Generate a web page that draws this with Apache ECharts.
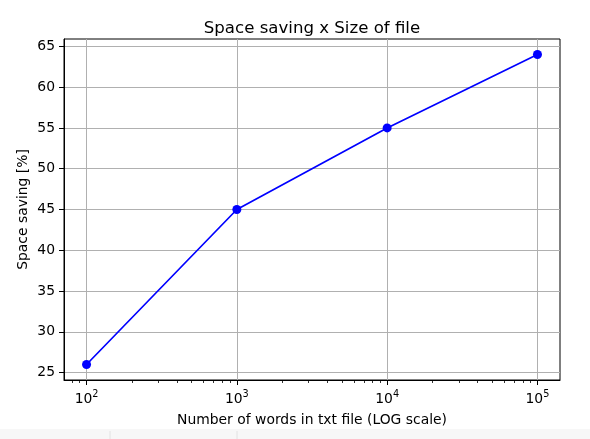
<!DOCTYPE html>
<html>
<head>
<meta charset="utf-8">
<style>
  html, body { margin: 0; padding: 0; background: #fff; }
  #chart { width: 590px; height: 439px; }
</style>
<script src="https://cdn.jsdelivr.net/npm/echarts@6/dist/echarts.min.js"></script>
</head>
<body>
<div id="chart"></div>
<script>
const wordCounts = [100, 1000, 10000, 100000];
const spaceSaving = [26, 45, 55, 64];
const xMajorTicks = [100, 1000, 10000, 100000];
const xMinorTicks = [
  80, 90,
  200, 300, 400, 500, 600, 700, 800, 900,
  2000, 3000, 4000, 5000, 6000, 7000, 8000, 9000,
  20000, 30000, 40000, 50000, 60000, 70000, 80000, 90000
];
const yTicks = [25, 30, 35, 40, 45, 50, 55, 60, 65];

const FONT = "DejaVu Sans";

// matplotlib-like 5% margins around the data
const X_MIN = Math.pow(10, 1.85);
const X_MAX = Math.pow(10, 5.15);
const Y_MIN = 24.1;
const Y_MAX = 65.9;

const chart = echarts.init(document.getElementById("chart"));

function formatPower(value) {
  const exp = Math.round(Math.log10(value));
  return "{b|10}{s|" + exp + "}";
}

chart.setOption({
  animation: false,
  title: {
    text: "Space saving x Size of file",
    left: 307,
    top: 15,
    textAlign: "center",
    textStyle: { fontFamily: FONT, fontSize: 16.6, fontWeight: "normal", color: "#000" }
  },
  grid: {
    left: 64,
    right: 30,
    top: 39,
    bottom: 59,
    show: true,
    borderColor: "#000",
    borderWidth: 1
  },
  graphic: [
    {
      type: "rect",
      left: 0,
      bottom: 0,
      shape: { width: 590, height: 10 },
      style: { fill: "#f7f7f7" },
      silent: true
    },
    {
      type: "line",
      shape: { x1: 110, y1: 431, x2: 110, y2: 439 },
      style: { stroke: "#e2e2e2", lineWidth: 1 },
      silent: true
    },
    {
      type: "line",
      shape: { x1: 237, y1: 431, x2: 237, y2: 439 },
      style: { stroke: "#e2e2e2", lineWidth: 1 },
      silent: true
    }
  ],
  xAxis: [
    {
      type: "log",
      logBase: 10,
      min: X_MIN,
      max: X_MAX,
      name: "Number of words in txt file (LOG scale)",
      nameLocation: "middle",
      nameGap: 33,
      nameTextStyle: { fontFamily: FONT, fontSize: 13.9, color: "#000" },
      axisLine: { show: true, lineStyle: { color: "#000", width: 1 } },
      axisTick: {
        show: true,
        customValues: xMajorTicks,
        length: 5,
        lineStyle: { color: "#000", width: 1 }
      },
      axisLabel: {
        customValues: xMajorTicks,
        formatter: formatPower,
        margin: 9,
        color: "#000",
        rich: {
          b: { fontFamily: FONT, fontSize: 13.9, lineHeight: 20, color: "#000" },
          s: { fontFamily: FONT, fontSize: 9.7, lineHeight: 10, verticalAlign: "top", color: "#000" }
        }
      },
      splitLine: { show: true, lineStyle: { color: "#b0b0b0", width: 1 } }
    },
    {
      type: "log",
      logBase: 10,
      min: X_MIN,
      max: X_MAX,
      position: "bottom",
      axisLine: { show: false },
      axisTick: {
        show: true,
        customValues: xMinorTicks,
        length: 3,
        lineStyle: { color: "#000", width: 0.8 }
      },
      axisLabel: { show: false },
      splitLine: { show: false }
    }
  ],
  yAxis: {
    type: "value",
    min: Y_MIN,
    max: Y_MAX,
    name: "Space saving [%]",
    nameLocation: "middle",
    nameGap: 34,
    nameMoveOverlap: false,
    nameTextStyle: { fontFamily: FONT, fontSize: 13.9, color: "#000" },
    axisLine: { show: true, lineStyle: { color: "#000", width: 1 } },
    axisTick: {
      show: true,
      customValues: yTicks,
      length: 5,
      lineStyle: { color: "#000", width: 1 }
    },
    axisLabel: {
      customValues: yTicks,
      margin: 9,
      fontFamily: FONT,
      fontSize: 13.9,
      color: "#000"
    },
    splitLine: { show: true, lineStyle: { color: "#b0b0b0", width: 1 } }
  },
  series: [
    {
      type: "line",
      xAxisIndex: 0,
      data: wordCounts.map((w, i) => [w, spaceSaving[i]]),
      symbol: "circle",
      symbolSize: 9,
      showAllSymbol: true,
      lineStyle: { color: "#0000ff", width: 1.7 },
      itemStyle: { color: "#0000ff" }
    }
  ]
});
</script>
</body>
</html>
